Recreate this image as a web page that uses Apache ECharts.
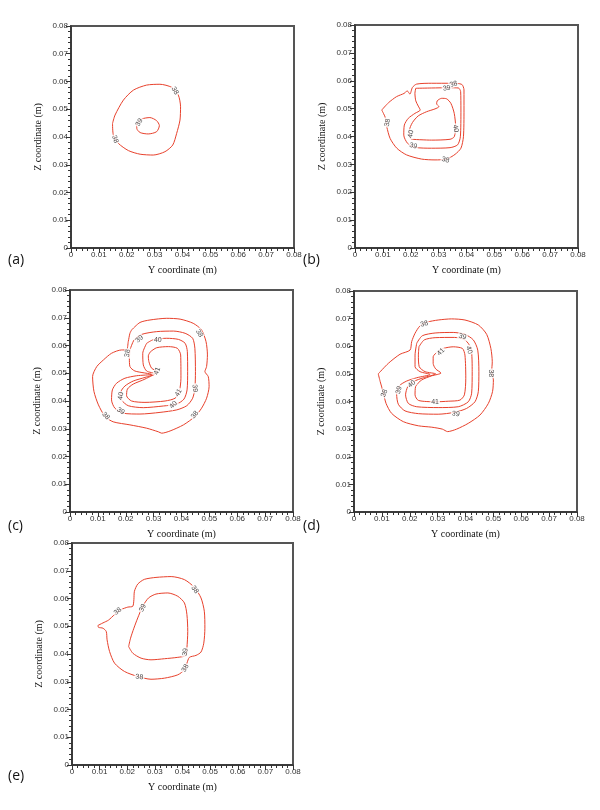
<!DOCTYPE html>
<html>
<head>
<meta charset="utf-8">
<script src="https://cdn.jsdelivr.net/npm/echarts@6/dist/echarts.min.js"></script>
<style>
  html, body { margin: 0; padding: 0; background: #fff; }
  #main { width: 600px; height: 810px; }
</style>
</head>
<body>
<div id="main"></div>
<script>
// axis ticks (m)
var tickValues = [0, 0.01, 0.02, 0.03, 0.04, 0.05, 0.06, 0.07, 0.08];
var panelNames = ['(a)', '(b)', '(c)', '(d)', '(e)'];

// contour lines, points as [Y coordinate, Z coordinate] in metres
// (a)
var a38 = [[0.0149,0.0449],[0.0158,0.0479],[0.0188,0.0533],[0.0224,0.0569],[0.0271,0.0587],[0.0319,0.0590],[0.0361,0.0579],[0.0385,0.0551],[0.0393,0.0509],[0.0391,0.0461],[0.0379,0.0413],[0.0365,0.0371],[0.0337,0.0347],[0.0295,0.0335],[0.0248,0.0338],[0.0206,0.0351],[0.0170,0.0377],[0.0152,0.0407]];
var a39 = [[0.0236,0.0449],[0.0254,0.0465],[0.0283,0.0470],[0.0307,0.0459],[0.0317,0.0441],[0.0307,0.0419],[0.0277,0.0411],[0.0248,0.0416],[0.0236,0.0431]];
var aLabels = [[0.0373,0.0567,'38',-60],[0.0245,0.0453,'39',60],[0.0158,0.0392,'38',-70]];

// (b)
var b38 = [[0.0096,0.0495],[0.0120,0.0521],[0.0149,0.0543],[0.0177,0.0555],[0.0187,0.0564],[0.0197,0.0552],[0.0206,0.0576],[0.0221,0.0588],[0.0275,0.0591],[0.0347,0.0591],[0.0383,0.0587],[0.0391,0.0567],[0.0391,0.0495],[0.0389,0.0399],[0.0380,0.0358],[0.0359,0.0336],[0.0329,0.0319],[0.0287,0.0316],[0.0239,0.0319],[0.0185,0.0334],[0.0150,0.0358],[0.0126,0.0393],[0.0114,0.0435],[0.0110,0.0465],[0.0102,0.0483]];
var b39 = [[0.0218,0.0573],[0.0275,0.0574],[0.0335,0.0575],[0.0371,0.0574],[0.0379,0.0561],[0.0380,0.0495],[0.0378,0.0399],[0.0368,0.0370],[0.0341,0.0360],[0.0275,0.0358],[0.0215,0.0361],[0.0189,0.0375],[0.0175,0.0405],[0.0177,0.0441],[0.0191,0.0465],[0.0215,0.0483],[0.0234,0.0495],[0.0227,0.0509],[0.0218,0.0528],[0.0215,0.0555]];
var b40 = [[0.0203,0.0390],[0.0275,0.0387],[0.0341,0.0390],[0.0356,0.0399],[0.0361,0.0435],[0.0356,0.0483],[0.0344,0.0519],[0.0329,0.0535],[0.0311,0.0537],[0.0295,0.0528],[0.0293,0.0517],[0.0301,0.0507],[0.0287,0.0499],[0.0257,0.0489],[0.0227,0.0474],[0.0206,0.0450],[0.0195,0.0421],[0.0196,0.0399]];
var bLabels = [[0.0353,0.0588,'38',15],[0.0329,0.0573,'39',10],[0.0117,0.0450,'38',80],[0.0200,0.0409,'40',80],[0.0361,0.0429,'40',-80],[0.0209,0.0366,'39',-15],[0.0325,0.0316,'38',-15]];

// (c)
var c38 = [[0.0221,0.0656],[0.0251,0.0683],[0.0287,0.0692],[0.0347,0.0698],[0.0395,0.0695],[0.0442,0.0680],[0.0472,0.0656],[0.0488,0.0614],[0.0493,0.0566],[0.0490,0.0524],[0.0484,0.0506],[0.0496,0.0488],[0.0499,0.0452],[0.0490,0.0410],[0.0472,0.0374],[0.0448,0.0344],[0.0407,0.0314],[0.0359,0.0292],[0.0329,0.0284],[0.0317,0.0289],[0.0275,0.0302],[0.0215,0.0314],[0.0155,0.0325],[0.0126,0.0344],[0.0102,0.0386],[0.0086,0.0434],[0.0081,0.0488],[0.0096,0.0524],[0.0120,0.0548],[0.0149,0.0572],[0.0185,0.0584],[0.0203,0.0584],[0.0209,0.0614],[0.0215,0.0644]];
var c39 = [[0.0215,0.0584],[0.0230,0.0620],[0.0257,0.0640],[0.0311,0.0650],[0.0371,0.0652],[0.0413,0.0644],[0.0440,0.0626],[0.0448,0.0590],[0.0450,0.0506],[0.0448,0.0446],[0.0440,0.0410],[0.0419,0.0383],[0.0383,0.0368],[0.0323,0.0359],[0.0251,0.0353],[0.0191,0.0356],[0.0161,0.0374],[0.0149,0.0404],[0.0152,0.0440],[0.0167,0.0464],[0.0197,0.0482],[0.0239,0.0491],[0.0293,0.0496],[0.0233,0.0508],[0.0215,0.0524],[0.0213,0.0554]];
var c40 = [[0.0275,0.0608],[0.0299,0.0621],[0.0347,0.0626],[0.0389,0.0622],[0.0413,0.0608],[0.0421,0.0578],[0.0422,0.0506],[0.0420,0.0440],[0.0409,0.0407],[0.0383,0.0389],[0.0335,0.0382],[0.0263,0.0376],[0.0209,0.0383],[0.0185,0.0404],[0.0182,0.0431],[0.0197,0.0454],[0.0227,0.0472],[0.0269,0.0485],[0.0305,0.0498],[0.0275,0.0508],[0.0263,0.0530],[0.0261,0.0572]];
var c41 = [[0.0289,0.0578],[0.0311,0.0592],[0.0353,0.0596],[0.0385,0.0590],[0.0397,0.0566],[0.0398,0.0482],[0.0392,0.0434],[0.0377,0.0410],[0.0341,0.0400],[0.0269,0.0395],[0.0221,0.0400],[0.0203,0.0419],[0.0206,0.0443],[0.0227,0.0461],[0.0269,0.0479],[0.0313,0.0506],[0.0293,0.0518],[0.0283,0.0542],[0.0281,0.0563]];
var cLabels = [[0.0464,0.0644,'38',-60],[0.0249,0.0623,'39',40],[0.0315,0.0620,'40',0],[0.0206,0.0572,'38',80],[0.0313,0.0508,'41',70],[0.0182,0.0418,'40',80],[0.0389,0.0430,'41',60],[0.0448,0.0446,'39',-85],[0.0371,0.0386,'40',45],[0.0182,0.0364,'39',-30],[0.0448,0.0350,'38',50],[0.0129,0.0346,'38',-45]];

// (d)
var d38 = [[0.0087,0.0500],[0.0123,0.0538],[0.0165,0.0571],[0.0201,0.0586],[0.0207,0.0617],[0.0219,0.0647],[0.0237,0.0674],[0.0261,0.0687],[0.0302,0.0695],[0.0350,0.0699],[0.0398,0.0695],[0.0446,0.0677],[0.0476,0.0643],[0.0491,0.0592],[0.0496,0.0544],[0.0494,0.0508],[0.0500,0.0478],[0.0497,0.0436],[0.0482,0.0393],[0.0452,0.0351],[0.0410,0.0321],[0.0368,0.0300],[0.0336,0.0291],[0.0317,0.0300],[0.0279,0.0307],[0.0231,0.0312],[0.0177,0.0327],[0.0135,0.0357],[0.0115,0.0393],[0.0105,0.0433],[0.0094,0.0472]];
var d39 = [[0.0225,0.0611],[0.0245,0.0638],[0.0291,0.0648],[0.0356,0.0650],[0.0398,0.0643],[0.0428,0.0623],[0.0444,0.0586],[0.0448,0.0508],[0.0446,0.0436],[0.0434,0.0399],[0.0404,0.0375],[0.0362,0.0361],[0.0302,0.0354],[0.0231,0.0356],[0.0183,0.0366],[0.0159,0.0390],[0.0153,0.0426],[0.0163,0.0457],[0.0189,0.0474],[0.0225,0.0486],[0.0273,0.0498],[0.0237,0.0508],[0.0219,0.0526],[0.0219,0.0568]];
var d40 = [[0.0233,0.0598],[0.0252,0.0623],[0.0291,0.0631],[0.0360,0.0632],[0.0398,0.0623],[0.0420,0.0592],[0.0424,0.0508],[0.0422,0.0430],[0.0410,0.0399],[0.0374,0.0381],[0.0302,0.0378],[0.0225,0.0381],[0.0195,0.0393],[0.0185,0.0424],[0.0193,0.0454],[0.0213,0.0472],[0.0249,0.0486],[0.0293,0.0500],[0.0255,0.0508],[0.0234,0.0526],[0.0231,0.0568]];
var d41 = [[0.0297,0.0578],[0.0320,0.0592],[0.0356,0.0598],[0.0389,0.0592],[0.0398,0.0568],[0.0401,0.0484],[0.0396,0.0424],[0.0380,0.0405],[0.0338,0.0401],[0.0293,0.0399],[0.0231,0.0404],[0.0219,0.0424],[0.0221,0.0454],[0.0243,0.0478],[0.0279,0.0493],[0.0312,0.0503],[0.0293,0.0518],[0.0284,0.0538],[0.0284,0.0562]];
var dLabels = [[0.0252,0.0681,'38',15],[0.0389,0.0635,'39',-15],[0.0413,0.0586,'40',-70],[0.0312,0.0580,'41',45],[0.0491,0.0502,'38',-90],[0.0109,0.0430,'38',70],[0.0161,0.0442,'39',75],[0.0207,0.0463,'40',40],[0.0291,0.0397,'41',0],[0.0365,0.0355,'39',-10]];

// (e)
var e38 = [[0.0094,0.0503],[0.0112,0.0512],[0.0132,0.0522],[0.0154,0.0542],[0.0178,0.0560],[0.0202,0.0569],[0.0220,0.0572],[0.0224,0.0596],[0.0226,0.0626],[0.0238,0.0652],[0.0262,0.0669],[0.0304,0.0676],[0.0359,0.0679],[0.0407,0.0668],[0.0443,0.0640],[0.0467,0.0602],[0.0479,0.0554],[0.0481,0.0493],[0.0477,0.0439],[0.0467,0.0407],[0.0449,0.0395],[0.0425,0.0388],[0.0416,0.0367],[0.0407,0.0343],[0.0383,0.0325],[0.0335,0.0313],[0.0286,0.0309],[0.0238,0.0319],[0.0190,0.0337],[0.0154,0.0367],[0.0136,0.0409],[0.0127,0.0451],[0.0124,0.0481],[0.0112,0.0493],[0.0096,0.0496]];
var e39 = [[0.0205,0.0427],[0.0212,0.0457],[0.0224,0.0493],[0.0238,0.0530],[0.0256,0.0572],[0.0277,0.0602],[0.0304,0.0616],[0.0347,0.0620],[0.0383,0.0608],[0.0407,0.0584],[0.0416,0.0542],[0.0419,0.0481],[0.0416,0.0421],[0.0413,0.0395],[0.0383,0.0388],[0.0335,0.0383],[0.0286,0.0379],[0.0250,0.0385],[0.0220,0.0403]];
var eLabels = [[0.0445,0.0632,'38',-55],[0.0166,0.0554,'38',40],[0.0256,0.0566,'39',65],[0.0410,0.0407,'39',85],[0.0410,0.0349,'38',60],[0.0244,0.0317,'38',-5]];

var panels = [
  { box: [71, 26, 223, 222], lines: [a38, a39], labels: aLabels },
  { box: [355, 25, 223, 223], lines: [b38, b39, b40], labels: bLabels },
  { box: [70, 290, 223, 222], lines: [c38, c39, c40, c41], labels: cLabels },
  { box: [354, 291, 223, 221], lines: [d38, d39, d40, d41], labels: dLabels },
  { box: [72, 543, 221, 222], lines: [e38, e39], labels: eLabels }
];
var panelTags = [[8, 262], [303, 262], [8, 528], [303, 528], [8, 778]];

var myChart = echarts.init(document.getElementById('main'));

var grids = [], xAxes = [], yAxes = [], series = [], graphics = [];

var axisCommon = {
  type: 'value',
  min: 0,
  max: 0.08,
  interval: 0.01,
  splitLine: { show: false },
  axisLine: { show: true, lineStyle: { color: '#333', width: 1.5 } },
  axisTick: { show: true, length: 5, lineStyle: { color: '#333', width: 1 } },
  minorTick: { show: true, splitNumber: 5, length: 3, lineStyle: { color: '#333', width: 1 } },
  axisLabel: {
    fontSize: 8,
    color: '#333',
    fontFamily: 'Liberation Sans',
    margin: 3,
    formatter: function (v) { return v === 0 ? '0' : v.toFixed(2); }
  },
  nameLocation: 'middle',
  nameTextStyle: { fontFamily: 'Liberation Serif', fontSize: 10, color: '#111' }
};

panels.forEach(function (p, i) {
  grids.push({
    left: p.box[0], top: p.box[1], width: p.box[2], height: p.box[3],
    show: true, borderColor: '#555', borderWidth: 2, backgroundColor: '#fff'
  });
  xAxes.push(Object.assign({}, axisCommon, {
    gridIndex: i, name: 'Y coordinate (m)', nameGap: 17
  }));
  yAxes.push(Object.assign({}, axisCommon, {
    gridIndex: i, name: 'Z coordinate (m)', nameGap: 28
  }));
  p.lines.forEach(function (pts) {
    series.push({
      type: 'line',
      xAxisIndex: i, yAxisIndex: i,
      data: pts.concat([pts[0]]),
      showSymbol: false,
      smooth: 0.25,
      silent: true,
      lineStyle: { color: '#e8412c', width: 1 }
    });
  });
  series.push({
    type: 'scatter',
    xAxisIndex: i, yAxisIndex: i,
    symbolSize: 0,
    silent: true,
    z: 5,
    data: p.labels.map(function (l) {
      return {
        value: [l[0], l[1]],
        label: {
          show: true, position: 'inside', formatter: l[2], rotate: l[3],
          fontSize: 7, color: '#222', fontFamily: 'Liberation Sans',
          backgroundColor: '#fff', padding: [0, 1]
        }
      };
    })
  });
  graphics.push({
    type: 'text', left: panelTags[i][0], top: panelTags[i][1] - 9,
    style: { text: panelNames[i], font: '14px "Open Sans"', fill: '#111' }
  });
});

var option = {
  animation: false,
  backgroundColor: '#fff',
  grid: grids,
  xAxis: xAxes,
  yAxis: yAxes,
  series: series,
  graphic: graphics
};

myChart.setOption(option);
</script>
</body>
</html>
